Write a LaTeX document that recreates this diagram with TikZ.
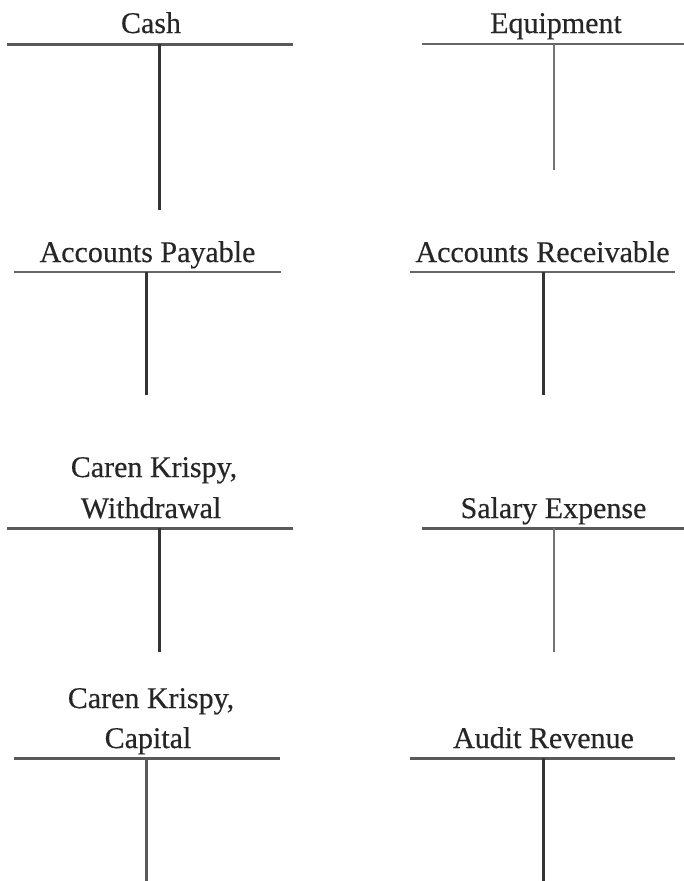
\documentclass[tikz,border=0pt]{standalone}
\usepackage{fontspec}
\setmainfont{Liberation Serif}[FakeBold=0.4]
\begin{document}
\begin{tikzpicture}[x=1pt,y=-1pt,
  lbl/.style={anchor=base,inner sep=0pt,text=black!85,font=\fontsize{30}{41}\selectfont},
  hline/.style={draw=black!65,line width=3pt},
  hthin/.style={draw=black!60,line width=2.3pt},
  vthick/.style={draw=black!80,line width=3pt},
  vthin/.style={draw=black!55,line width=1.6pt}]
\useasboundingbox[fill=white] (0,0) rectangle (684,881);
% Cash
\node[lbl] (cash) at (151,33) {Cash};
\draw[hline] (7,44) -- (293,44);
\draw[vthick] (159,44) -- (159,210);
% Equipment
\node[lbl] (equip) at (556,33) {Equipment};
\draw[hthin] (422,44) -- (684,44);
\draw[vthin] (554,44) -- (554,170);
% Accounts Payable
\node[lbl] (ap) at (147.5,262) {Accounts Payable};
\draw[hthin] (14,272) -- (281,272);
\draw[vthick] (146,272) -- (146,395);
% Accounts Receivable
\node[lbl] (ar) at (542.5,262) {Accounts Receivable};
\draw[hthin] (410,272) -- (675,272);
\draw[vthick] (543,272) -- (543,395);
% Withdrawal
\node[lbl] (wd1) at (154,477) {Caren Krispy,};
\node[lbl] (wd2) at (151,518) {Withdrawal};
\draw[hline] (7,528) -- (293,528);
\draw[vthick] (159,528) -- (159,652);
% Salary Expense
\node[lbl] (sal) at (553.5,518) {Salary Expense};
\draw[hline] (422,528) -- (684,528);
\draw[vthin] (554,528) -- (554,652);
% Capital
\node[lbl] (cp1) at (151,708) {Caren Krispy,};
\node[lbl] (cp2) at (148,748) {Capital};
\draw[hline] (14,758) -- (280,758);
\draw[vthick,draw=black!65] (146,758) -- (146,881);
% Audit Revenue
\node[lbl] (rev) at (543.5,748) {Audit Revenue};
\draw[hline] (410,758) -- (675,758);
\draw[vthick] (543,758) -- (543,881);
\end{tikzpicture}
\end{document}
